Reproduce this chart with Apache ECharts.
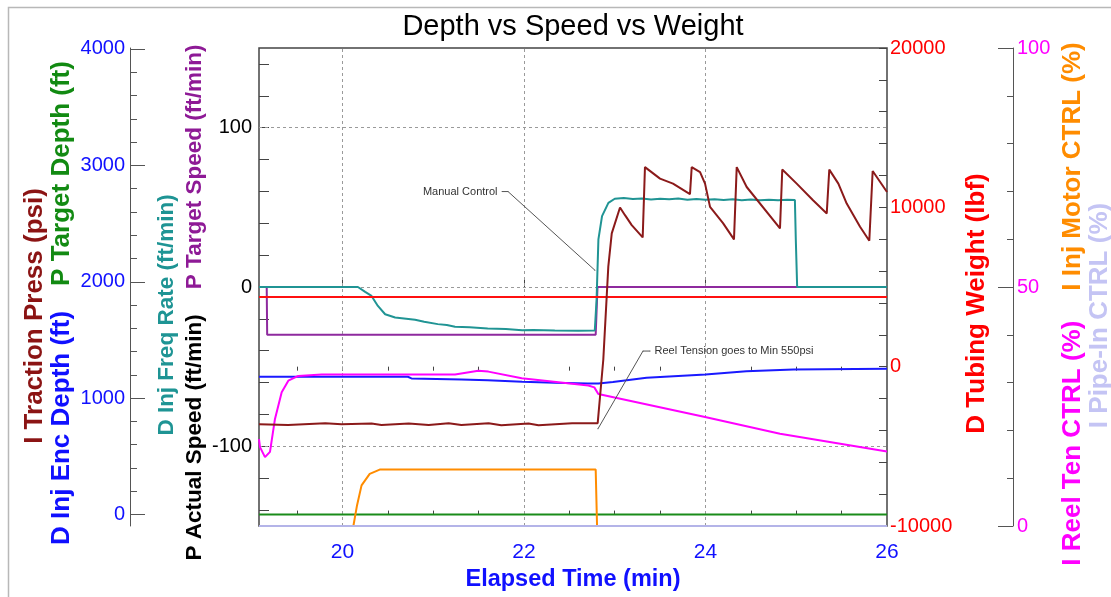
<!DOCTYPE html>
<html>
<head>
<meta charset="utf-8">
<script src="https://cdn.jsdelivr.net/npm/echarts@6/dist/echarts.min.js"></script>
<style>
html, body { margin: 0; padding: 0; background: #fff; }
#chart { width: 1111px; height: 597px; }
</style>
</head>
<body>
<div id="chart"></div>
<script>
// ticks and labels
const timeLabels = [20, 22, 24, 26];
const timeMajorTicks = [20, 22, 24];
const timeMinorTicks = [19.5, 20.5, 21, 21.5, 22.5, 23, 23.5, 24.5, 25, 25.5];
const timeAllTicks = [19.5, 20, 20.5, 21, 21.5, 22, 22.5, 23, 23.5, 24, 24.5, 25, 25.5];
const speedLabels = [-100, 0, 100];
const speedTicks = [-140, -120, -100, -80, -60, -40, -20, 0, 20, 40, 60, 80, 100, 120, 140];
const depthLabels = [0, 1000, 2000, 3000, 4000];
const depthMinorTicks = [200, 400, 600, 800, 1200, 1400, 1600, 1800, 2200, 2400, 2600, 2800, 3200, 3400, 3600, 3800];

// [time (min), value]
// D Inj Freq Rate (ft/min)
const injFreqRate = [
  [19.08, 0], [20.17, 0], [20.25, -3.1], [20.32, -5.6], [20.39, -11.9], [20.47, -17.1],
  [20.58, -19.1], [20.8, -20.6], [20.9, -21.8], [21.05, -23.3], [21.15, -23.9], [21.24, -25.0],
  [21.4, -25.2], [21.6, -26.0], [21.8, -26.4], [21.98, -27.1], [22.1, -27.0], [22.34, -27.3],
  [22.6, -27.4], [22.78, -27.3], [22.8, -7.7], [22.82, 29.9], [22.86, 44.5], [22.93, 52.8],
  [23.0, 55.4], [23.1, 55.8], [23.2, 55.3], [23.3, 55.6], [23.4, 54.9], [23.5, 55.4],
  [23.6, 55.0], [23.7, 55.5], [23.8, 54.8], [23.9, 55.3], [24.0, 54.7], [24.1, 55.1],
  [24.2, 54.6], [24.3, 55.0], [24.4, 54.5], [24.5, 54.9], [24.6, 54.4], [24.7, 54.8],
  [24.8, 54.5], [24.9, 54.7], [24.985, 54.6], [24.995, 30], [25.01, 0], [26, 0]
];
// P Target Speed (ft/min)
const targetSpeed = [[19.08, 0], [19.165, 0], [19.17, -30], [22.79, -30], [22.81, 0], [26, 0]];
// D Tubing Weight (lbf)
const tubingWeight = [[19.08, 4380], [26, 4380]];
// I Traction Press (psi)
const tractionPress = [
  [19.08, 776], [19.4, 770], [19.81, 785], [19.99, 776], [20.32, 782], [20.43, 770],
  [20.73, 782], [20.95, 770], [21.17, 785], [21.31, 770], [21.61, 785], [21.75, 768],
  [22.05, 782], [22.16, 768], [22.53, 785], [22.812, 785], [22.82, 791], [22.874, 1332],
  [22.929, 2130], [22.967, 2416], [23.058, 2638], [23.113, 2572], [23.187, 2487], [23.308, 2381],
  [23.333, 2985], [23.499, 2886], [23.642, 2843], [23.829, 2752], [23.848, 2985], [23.94, 2942],
  [23.995, 2843], [24.05, 2643], [24.193, 2504], [24.314, 2364], [24.344, 2985], [24.454, 2814],
  [24.821, 2458], [24.846, 2965], [25.005, 2843], [25.185, 2700], [25.336, 2587], [25.364, 2963],
  [25.464, 2843], [25.556, 2672], [25.703, 2472], [25.805, 2352], [25.842, 2951], [26.0, 2771]
];
// D Inj Enc Depth (ft)
const encDepth = [
  [19.08, 1184], [20.72, 1184], [20.76, 1170], [21.31, 1161], [21.6, 1153], [21.98, 1142],
  [22.34, 1133], [22.7, 1127], [22.82, 1127], [22.98, 1138], [23.35, 1176], [24.0, 1204],
  [24.45, 1232], [24.97, 1247], [26, 1253]
];
// P Target Depth (ft)
const targetDepth = [[19.08, 0], [26, 0]];
// I Reel Ten CTRL (%)
const reelTen = [
  [19.08, 18.2], [19.091, 16.5], [19.146, 14.4], [19.201, 15.5], [19.256, 22.4], [19.33, 28.0],
  [19.403, 30.4], [19.513, 31.4], [19.771, 31.7], [20.725, 31.7], [21.24, 31.7], [21.496, 32.5],
  [21.607, 32.3], [21.975, 30.9], [22.709, 29.4], [22.775, 29.0], [22.819, 27.6], [22.838, 27.6],
  [23.995, 22.8], [24.821, 19.3], [26.0, 15.6]
];
// I Inj Motor CTRL (%)
const injMotor = [
  [19.08, 0], [20.12, 0], [20.16, 4.3], [20.21, 8.5], [20.3, 10.9], [20.41, 11.8],
  [22.79, 11.8], [22.805, 0], [26, 0]
];
// I Pipe-In CTRL (%)
const pipeIn = [[19.08, 0], [26, 0]];

// annotation leader lines, in time / speed units
const manualNote = [[21.758, 59.9], [21.824, 59.9], [22.782, 10.5]];
const reelNote = [[23.389, -40.2], [23.311, -40.2], [22.815, -89.0]];

const FONT = 'Liberation Sans, Arial, sans-serif';
const plain = v => String(v);

function line(name, data, yIdx, color, width) {
  return {
    name: name, type: 'line', data: data, xAxisIndex: 0, yAxisIndex: yIdx,
    showSymbol: false, symbol: 'none', silent: true,
    lineStyle: { color: color, width: width || 2 }, itemStyle: { color: color }
  };
}

function note(data, text, pos) {
  return {
    type: 'line', xAxisIndex: 0, yAxisIndex: 0, silent: true, z: 3,
    symbol: 'circle', symbolSize: 1, showSymbol: true,
    lineStyle: { color: '#555', width: 1 }, itemStyle: { color: '#555' },
    data: data.map((p, i) => i === 0 ? {
      value: p,
      label: { show: true, position: pos, distance: 4, formatter: text, color: '#333', fontSize: 11, fontFamily: FONT }
    } : { value: p })
  };
}

// rotated (bottom to top) axis title, several coloured parts in one column
function vtitle(x, y, size, gap, parts) {
  const rich = {};
  let text = '';
  parts.forEach((p, i) => {
    rich['p' + i] = { fill: p[1], fontSize: size, fontWeight: 'bold', fontFamily: FONT };
    text += (i ? '{gap| }' : '') + '{p' + i + '|' + p[0] + '}';
  });
  rich.gap = { fontSize: size, fontFamily: FONT, width: gap };
  return {
    type: 'text', x: x, y: y, rotation: Math.PI / 2, silent: true,
    style: { text: text, rich: rich, align: 'center', verticalAlign: 'middle',
      textAlign: 'center', textVerticalAlign: 'middle' }
  };
}

const gridLines = [];
timeMajorTicks.forEach(t => gridLines.push({ xAxis: t }));
speedLabels.forEach(v => gridLines.push({ yAxis: v }));

const purple = line('P Target Speed (ft/min)', targetSpeed, 0, '#8E2A9E');
purple.markLine = {
  silent: true, symbol: 'none', z: 1, animation: false,
  label: { show: false },
  lineStyle: { type: [3, 3], color: '#9a9a9a', width: 1 },
  data: gridLines
};

const tickStyle = { color: '#444' };

const option = {
  animation: false,
  backgroundColor: '#fff',
  title: {
    text: 'Depth vs Speed vs Weight', left: 568, top: 7, textAlign: 'center',
    textStyle: { fontSize: 29, fontWeight: 'normal', color: '#000', fontFamily: FONT }
  },
  grid: { left: 259, right: 224, top: 48, bottom: 69, show: true, borderColor: '#444', borderWidth: 1.5, backgroundColor: '#fff' },
  xAxis: [
    {
      type: 'value', min: 19.08, max: 26, position: 'bottom',
      axisLine: { show: false },
      axisTick: { inside: true, length: 8, customValues: timeMajorTicks, lineStyle: tickStyle },
      axisLabel: { customValues: timeLabels, color: '#1010FF', fontSize: 21, margin: 16, fontFamily: FONT },
      splitLine: { show: false },
      name: 'Elapsed Time (min)', nameLocation: 'middle', nameGap: 42,
      nameTextStyle: { color: '#1010FF', fontSize: 23.5, fontWeight: 'bold', fontFamily: FONT }
    },
    {
      type: 'value', min: 19.08, max: 26, position: 'bottom',
      axisLine: { show: false }, axisLabel: { show: false }, splitLine: { show: false },
      axisTick: { inside: true, length: 4, customValues: timeMinorTicks, lineStyle: tickStyle }
    },
    {
      type: 'value', min: 19.08, max: 26, position: 'top',
      axisLine: { show: false }, axisLabel: { show: false }, splitLine: { show: false },
      axisTick: { inside: true, length: 4, customValues: timeAllTicks, lineStyle: tickStyle }
    }
  ],
  yAxis: [
    {
      // 0: speed, ft/min
      type: 'value', min: -150, max: 150, position: 'left',
      axisLine: { show: false },
      axisTick: { inside: true, length: 10, customValues: speedTicks, lineStyle: tickStyle },
      axisLabel: { customValues: speedLabels, color: '#000', fontSize: 20, margin: 7, fontFamily: FONT },
      splitLine: { show: false }
    },
    {
      // 1: depth ft / pressure psi, far left
      type: 'value', min: -98, max: 4008, position: 'left', offset: 129,
      axisLine: { show: true, lineStyle: { color: '#555' } },
      axisTick: { inside: true, length: 15, customValues: depthLabels, lineStyle: { color: '#555' } },
      axisLabel: { customValues: depthLabels, formatter: plain, color: '#1010FF', fontSize: 20, margin: 5, fontFamily: FONT },
      splitLine: { show: false }
    },
    {
      // 2: tubing weight, lbf
      type: 'value', min: -10000, max: 20000, interval: 10000, position: 'right',
      axisLine: { show: false },
      axisTick: { inside: true, length: 8, lineStyle: tickStyle },
      minorTick: { show: true, splitNumber: 5, length: 8, lineStyle: tickStyle },
      axisLabel: { formatter: plain, color: '#FF0000', fontSize: 20, margin: 3, fontFamily: FONT },
      splitLine: { show: false }
    },
    {
      // 3: control, %
      type: 'value', min: 0, max: 100, interval: 50, position: 'right', offset: 126,
      axisLine: { show: true, lineStyle: { color: '#555' } },
      axisTick: { inside: true, length: 15, lineStyle: { color: '#555' } },
      minorTick: { show: true, splitNumber: 5, length: 6, lineStyle: { color: '#555' } },
      axisLabel: { color: '#FF00FF', fontSize: 20, margin: 4, fontFamily: FONT },
      splitLine: { show: false }
    },
    {
      // 4: minor ticks of the far left axis
      type: 'value', min: -98, max: 4008, position: 'left', offset: 129,
      axisLine: { show: false }, axisLabel: { show: false }, splitLine: { show: false },
      axisTick: { inside: true, length: 7, customValues: depthMinorTicks, lineStyle: { color: '#555' } }
    }
  ],
  graphic: [
    { type: 'rect', silent: true, z: -10, shape: { x: 8.5, y: 7.5, width: 1200, height: 700 },
      style: { fill: null, stroke: '#b8b8b8', lineWidth: 1.5 } },
    vtitle(35, 316, 26, 25, [['I Traction Press (psi)', '#8B1414']]),
    vtitle(62, 303, 26, 25, [['D Inj Enc Depth (ft)', '#1010FF'], ['P Target Depth (ft)', '#128A12']]),
    vtitle(167, 315, 22.5, 25, [['D Inj Freq Rate (ft/min)', '#1E9494']]),
    vtitle(195, 302.5, 22.5, 25, [['P Actual Speed (ft/min)', '#000000'], ['P Target Speed (ft/min)', '#8E1A96']]),
    vtitle(977, 303.5, 26, 25, [['D Tubing Weight (lbf)', '#FF0000']]),
    vtitle(1073, 304, 26, 30, [['I Reel Ten CTRL (%)', '#FF00FF'], ['I Inj Motor CTRL (%)', '#FF8C00']]),
    vtitle(1100, 315.5, 26, 25, [['I Pipe-In CTRL (%)', '#C4C4F4']])
  ],
  series: [
    line('P Target Depth (ft)', targetDepth, 1, '#1A8C1A'),
    line('I Inj Motor CTRL (%)', injMotor, 3, '#FF8C00'),
    line('I Pipe-In CTRL (%)', pipeIn, 3, '#B4B4E8'),
    line('D Inj Enc Depth (ft)', encDepth, 1, '#1A1AFF'),
    line('I Reel Ten CTRL (%)', reelTen, 3, '#FF00FF'),
    purple,
    line('D Inj Freq Rate (ft/min)', injFreqRate, 0, '#209494'),
    line('D Tubing Weight (lbf)', tubingWeight, 2, '#FF1010'),
    line('I Traction Press (psi)', tractionPress, 1, '#8B1A1A'),
    note(manualNote, 'Manual Control', 'left'),
    note(reelNote, 'Reel Tension goes to Min 550psi', 'right')
  ]
};

echarts.init(document.getElementById('chart')).setOption(option);
</script>
</body>
</html>
